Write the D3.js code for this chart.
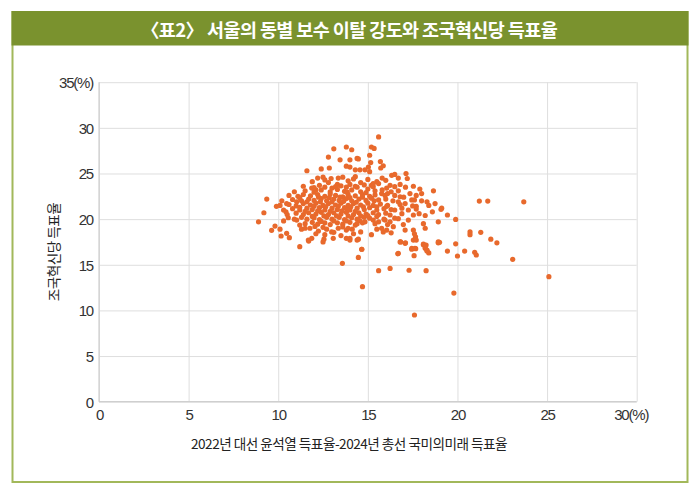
<!DOCTYPE html>
<html>
<head>
<meta charset="utf-8">
<script src="https://cdn.jsdelivr.net/npm/d3@7"></script>
<style>
  html, body { margin: 0; padding: 0; background: #fff; }
  svg { display: block; }
</style>
</head>
<body>
<svg id="chart" width="700" height="494"></svg>
<script>
const titleText = "〈표2〉 서울의 동별 보수 이탈 강도와 조국혁신당 득표율";
const xTitle = "2022년 대선 윤석열 득표율-2024년 총선 국미의미래 득표율";
const yTitle = "조국혁신당 득표율";
const xTicks = [0, 5, 10, 15, 20, 25, 30];
const yTicks = [0, 5, 10, 15, 20, 25, 30, 35];

// [x: 보수 이탈 강도 (%p), y: 조국혁신당 득표율 (%)]
const points = [
  // upper area
  [13.1,27.7],[12.8,26.8],[13.45,26.5],[13.8,27.9],[12.4,25.5],[12.85,25.6],[13.8,25.8],[11.6,25.3],
  [12.2,24.5],[12.5,24.6],[13.35,24.5],[13.6,24.6],[12.8,24.0],[13.3,23.8],[11.87,23.4],[13.0,23.4],[13.8,23.5],
  [15.6,29.0],[15.2,27.9],[15.35,27.75],[14.1,27.6],[15.1,27.0],[14.4,26.65],[14.47,26.6],[14.0,26.5],
  [15.7,26.3],[15.16,26.2],[15.86,25.85],[15.72,25.6],[15.03,25.7],[14.0,25.7],[14.3,25.4],[14.56,25.4],
  [14.84,25.4],[15.1,25.2],[16.33,24.8],[16.5,24.9],[16.7,24.5],[17.13,25.0],[17.2,24.45],[14.3,24.65],
  [15.2,23.7],[15.3,23.55],[16.05,23.4],[16.24,23.7],[16.5,23.55],[17.54,23.6],[18.0,22.8],[18.66,23.1],
  [17.35,22.8],[17.7,22.6],[16.8,22.45],[15.77,22.8],[15.96,22.6],
  // right tail
  [21.22,21.98],[21.69,21.98],[23.7,21.9],[19.08,21.07],[19.44,20.45],[19.9,19.97],[20.7,18.6],[20.7,18.3],
  [21.3,18.55],[21.86,17.8],[22.2,17.4],[19.0,17.46],[19.9,17.3],[19.44,16.5],[20.0,15.96],[20.4,16.5],
  [20.96,16.36],[21.05,16.07],[23.08,15.6],[25.1,13.7],[19.8,11.9],
  // lower area
  [11.2,16.98],[11.7,17.6],[12.5,17.5],[14.0,17.7],[14.4,17.7],[14.66,16.7],[14.47,15.8],[13.58,15.16],
  [14.7,12.6],[15.6,14.35],[16.24,14.6],[17.3,14.4],[18.25,14.35],[17.6,9.5],[16.67,16.2],[16.83,17.5],
  [17.1,17.4],[17.45,16.7],[17.67,16.76],[17.58,16.0],[17.54,17.7],[18.1,17.27],[18.25,17.16],[18.2,16.8],
  [18.3,16.5],[18.4,16.3],[18.93,17.4],
  // left side
  [9.36,22.2],[9.9,21.4],[10.47,21.7],[9.2,20.7],[8.9,19.7],[10.43,20.8],[10.56,20.15],[10.3,19.8],
  [9.82,19.24],[9.63,18.77],[10.1,18.9],[10.16,18.15],[10.47,18.44],[10.62,17.97],[11.03,21.9],
  [11.68,17.7],[11.87,17.9],[12.6,18.3],[12.55,17.8],[13.07,17.9],[13.8,17.9],[11.03,19.9],[11.2,19.35],
  [11.3,18.9],[11.5,19.0],[11.77,19.0],[12.05,19.2],[12.24,18.7],[12.98,18.6],[13.35,19.0],[13.8,18.8],
  // right of core
  [16.7,21.9],[17.08,21.7],[17.45,22.1],[18.0,22.0],[18.75,21.7],[19.12,21.2],[18.6,20.8],[17.7,21.4],
  [17.86,20.6],[17.26,21.0],[17.54,20.45],[16.5,21.0],[16.05,21.4],[16.24,20.45],[16.5,20.1],[17.26,19.9],
  [18.1,19.5],[18.93,19.7],[16.98,19.4],[15.96,19.9],[16.24,19.7],[16.42,19.17],[17.08,18.8],[17.54,18.8],
  [17.6,18.4],[17.66,18.07],[17.7,17.7],[18.2,19.0],[16.8,17.5],[17.08,17.35],[18.1,17.2],[18.2,17.0],
  [18.3,16.6],[18.93,17.5],[17.45,16.8],[17.63,16.8],[16.7,16.25],[14.0,17.9],[14.47,17.8],[14.66,16.7],
  [15.77,19.0],[15.86,18.6],[16.05,18.8],[13.9,19.0],[14.13,18.9],[14.3,19.35],[14.84,19.7],[15.1,20.1],
  [15.3,19.9],[15.6,19.7],
  // core
  [11.9,24.1],[12.6,24.3],[13.9,24.2],[14.6,24.0],[15.0,24.35],[15.5,24.1],[16.0,24.25],[14.2,24.4],
  [11.4,23.6],[12.3,23.7],[12.6,23.5],[13.5,23.65],[14.0,23.8],[14.4,23.5],[14.8,23.75],[15.6,23.9],
  [16.8,23.8],[17.1,23.5],[12.1,23.2],
  [10.9,23.0],[11.5,23.1],[12.0,22.95],[12.4,23.2],[12.9,23.0],[13.3,23.25],[13.7,23.05],[14.1,23.2],
  [14.6,23.0],[15.0,23.3],[15.4,23.1],[15.8,23.2],[16.3,23.0],[16.7,23.1],[17.9,23.3],
  [10.6,22.6],[11.1,22.5],[11.4,22.7],[11.8,22.55],[12.2,22.7],[12.6,22.5],[12.9,22.75],[13.2,22.6],
  [13.6,22.45],[13.9,22.7],[14.3,22.55],[14.7,22.7],[15.1,22.5],[15.4,22.65],[16.1,22.8],[16.5,22.6],[17.0,22.4],
  [10.2,22.0],[10.8,22.15],[11.3,22.0],[11.7,22.2],[12.0,22.05],[12.4,22.25],[12.7,22.0],[13.1,22.2],
  [13.4,22.05],[13.8,22.25],[14.1,22.0],[14.5,22.2],[14.9,22.05],[15.2,22.3],[15.6,22.1],[16.0,22.2],
  [16.4,22.0],[17.6,22.1],[18.3,21.9],
  [10.1,21.5],[10.6,21.6],[11.0,21.45],[11.4,21.7],[11.8,21.55],[12.1,21.75],[12.5,21.5],[12.8,21.7],
  [13.2,21.55],[13.5,21.75],[13.9,21.5],[14.2,21.7],[14.6,21.55],[15.0,21.75],[15.3,21.5],[15.7,21.65],
  [16.1,21.5],[16.8,21.6],[17.5,21.45],[18.4,21.5],
  [10.3,21.0],[10.8,21.15],[11.2,21.0],[11.6,21.2],[11.9,21.05],[12.3,21.25],[12.6,21.0],[13.0,21.2],
  [13.3,21.05],[13.7,21.25],[14.0,21.0],[14.4,21.2],[14.8,21.05],[15.1,21.25],[15.5,21.0],[15.9,21.15],
  [16.3,21.05],[16.9,21.2],[17.7,21.1],
  [10.5,20.5],[11.0,20.65],[11.4,20.5],[11.7,20.7],[12.1,20.55],[12.4,20.75],[12.8,20.5],[13.1,20.7],
  [13.5,20.55],[13.8,20.75],[14.2,20.5],[14.5,20.7],[14.9,20.55],[15.3,20.7],[15.6,20.5],[16.0,20.65],
  [16.9,20.6],[18.2,20.4],
  [10.9,20.0],[11.3,20.2],[11.6,20.0],[12.0,20.15],[12.3,19.95],[12.7,20.2],[13.0,20.0],[13.4,20.2],
  [13.7,19.95],[14.1,20.15],[14.4,20.0],[14.8,20.2],[15.5,20.3],[15.9,20.0],[16.7,20.05],
  [11.5,19.5],[11.9,19.65],[12.2,19.45],[12.6,19.6],[12.9,19.4],[13.3,19.6],[13.6,19.45],[14.0,19.65],
  [14.4,19.5],[14.7,19.6],[15.4,19.5],[16.1,19.4],
  [12.5,19.1],[12.7,18.9],[13.1,18.55],[13.6,19.15],[14.2,18.4],[14.6,18.6],[15.2,18.3],[15.5,18.9],
  [16.3,18.5],[13.5,18.2],[12.1,18.4],
  // core, interleaved
  [11.2,22.35],[11.6,21.9],[12.25,22.4],[12.85,22.35],[13.45,22.4],[14.0,22.35],[14.7,22.4],[15.35,22.0],
  [13.0,21.9],[13.65,21.95],[14.35,21.85],[12.35,21.9],
  [11.2,21.3],[12.0,21.4],[12.65,21.35],[13.35,21.4],[14.05,21.35],[14.75,21.35],[15.5,21.35],[13.85,20.95],
  [11.5,20.85],[12.2,20.9],[12.9,20.85],[13.55,20.9],[14.3,20.85],[15.0,20.4],[11.9,20.3],[12.55,20.35],
  [13.25,20.35],[13.9,20.35],[14.6,20.35],
  [12.4,19.75],[13.1,19.8],[13.8,19.8],[14.55,19.85],[12.0,23.45],[13.2,23.55],[13.85,22.95],[14.3,23.6],
  [14.9,22.9],[15.3,23.9],[12.95,24.45],[15.8,24.5]
];

const svg = d3.select("#chart");
const W = 700, H = 494;
const margin = { left: 99, right: 63.3, top: 82.2, bottom: 92.3 };
const iw = W - margin.left - margin.right;
const ih = H - margin.top - margin.bottom;

// Frame
const green = "#7a922e";
const frameGreen = "#a2b85a";
svg.append("rect").attr("x", 12.5).attr("y", 12).attr("width", 675).attr("height", 470)
  .attr("fill", "#fff").attr("stroke", frameGreen).attr("stroke-width", 2);
svg.append("rect").attr("x", 11.5).attr("y", 11).attr("width", 677).attr("height", 34.5)
  .attr("fill", green);
svg.append("text").attr("x", 349).attr("y", 29).attr("text-anchor", "middle")
  .attr("dominant-baseline", "central")
  .attr("font-family", "'Noto Sans CJK KR', 'Noto Sans', sans-serif")
  .attr("font-weight", 700).attr("font-size", 18.5).attr("letter-spacing", -0.6)
  .attr("fill", "#fff").text(titleText);

const g = svg.append("g").attr("transform", `translate(${margin.left},${margin.top})`);

const x = d3.scaleLinear().domain([0, 30]).range([0, iw]);
const y = d3.scaleLinear().domain([0, 35]).range([ih, 0]);

const fontNum = "'Liberation Sans', Arial, sans-serif";

// Grid
const gx = g.append("g").attr("transform", `translate(0,${ih})`)
  .call(d3.axisBottom(x).tickValues(xTicks).tickSize(-ih).tickFormat(d => d === 30 ? "30(%)" : d));
const gy = g.append("g")
  .call(d3.axisLeft(y).tickValues(yTicks).tickSize(-iw).tickFormat(d => d === 35 ? "35(%)" : d));

[gx, gy].forEach(a => {
  a.select(".domain").remove();
  a.selectAll(".tick line").attr("stroke", "#dedede").attr("stroke-width", 1);
  a.selectAll(".tick text").attr("font-family", fontNum).attr("font-size", 15)
    .attr("fill", "#333").attr("letter-spacing", -1.2);
});
gx.selectAll(".tick text").attr("dy", "1.0em").attr("y", 3);
gx.selectAll(".tick").filter(d => d === 30).select("text").attr("dx", -6);
gy.selectAll(".tick text").attr("x", -6).attr("dy", "0.36em");

// axis lines
g.append("line").attr("x1", 0).attr("x2", iw).attr("y1", ih).attr("y2", ih)
  .attr("stroke", "#cfcfcf").attr("stroke-width", 1.2);
g.append("line").attr("x1", 0).attr("x2", 0).attr("y1", 0).attr("y2", ih)
  .attr("stroke", "#cfcfcf").attr("stroke-width", 1.2);

// Points
g.append("g").selectAll("circle").data(points).join("circle")
  .attr("cx", d => x(d[0])).attr("cy", d => y(d[1])).attr("r", 2.6)
  .attr("fill", "#e8692c");

// Axis titles
svg.append("text").attr("x", 349).attr("y", 443).attr("text-anchor", "middle")
  .attr("dominant-baseline", "central")
  .attr("font-family", "'Noto Sans CJK KR', sans-serif").attr("font-size", 13.6)
  .attr("letter-spacing", -0.5).attr("fill", "#222").text(xTitle);

svg.append("text").attr("transform", "translate(53,252) rotate(-90)")
  .attr("text-anchor", "middle").attr("dominant-baseline", "central")
  .attr("font-family", "'Noto Sans CJK KR', sans-serif").attr("font-size", 13.6)
  .attr("letter-spacing", -0.5).attr("fill", "#222").text(yTitle);
</script>
</body>
</html>
